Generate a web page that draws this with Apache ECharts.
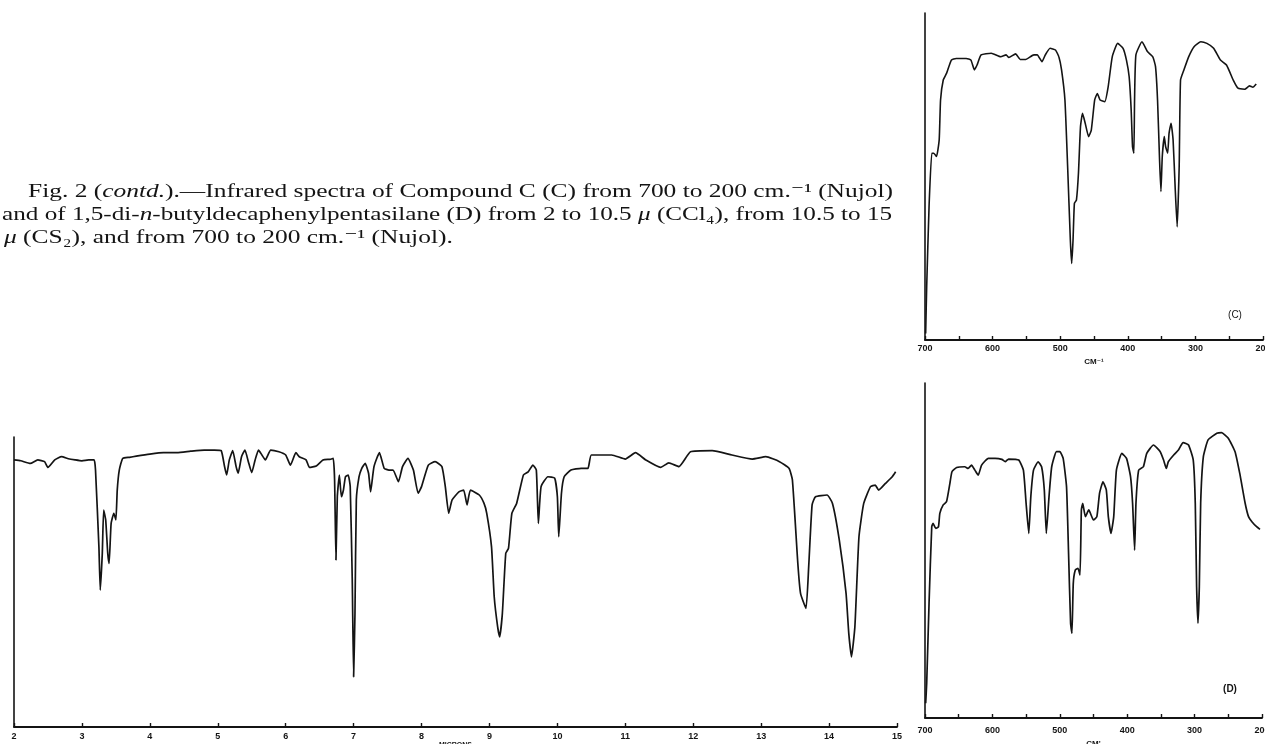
<!DOCTYPE html>
<html><head><meta charset="utf-8">
<script src="https://cdn.jsdelivr.net/npm/echarts@6/dist/echarts.min.js"></script>
<style>html,body{margin:0;padding:0;background:#fff}#c{width:1265px;height:744px}</style>
</head><body><div id="c"></div>
<script>
// ---- Spectrum D, 2 to 15 microns (x: microns, y: relative transmittance 0-100) ----
const dMicron = [2.00,2.10,2.24,2.35,2.45,2.50,2.60,2.70,2.80,2.90,3.00,3.10,3.18,3.20,3.25,3.27,3.30,3.32,3.35,3.38,3.40,3.43,3.47,3.50,3.52,3.55,3.60,3.70,3.80,4.00,4.20,4.40,4.60,4.80,4.95,5.05,5.10,5.13,5.17,5.22,5.27,5.30,5.35,5.40,5.45,5.50,5.55,5.60,5.65,5.70,5.78,5.90,6.00,6.07,6.15,6.20,6.30,6.35,6.45,6.55,6.65,6.70,6.72,6.74,6.76,6.79,6.82,6.85,6.88,6.92,6.95,6.98,7.00,7.02,7.04,7.08,7.12,7.17,7.22,7.25,7.30,7.38,7.45,7.52,7.58,7.66,7.72,7.80,7.88,7.95,8.00,8.10,8.20,8.30,8.35,8.40,8.45,8.55,8.62,8.67,8.72,8.85,8.92,8.96,9.03,9.07,9.12,9.15,9.19,9.24,9.28,9.33,9.40,9.50,9.57,9.64,9.69,9.72,9.76,9.86,9.96,10.00,10.02,10.06,10.10,10.20,10.35,10.45,10.50,10.80,11.00,11.15,11.30,11.52,11.64,11.79,11.96,12.28,12.57,12.87,13.07,13.27,13.41,13.46,13.54,13.58,13.66,13.70,13.75,13.80,13.97,14.05,14.15,14.25,14.29,14.33,14.38,14.44,14.51,14.61,14.68,14.73,14.83,14.93,14.98];
const dMicronT = [92.1,91.8,90.9,92.1,91.5,89.5,92.1,93.2,92.5,92.1,91.8,92.1,92.1,88.6,62.2,47.2,59.9,74.8,71.4,59.9,56.4,70.2,73.7,71.4,81.7,88.6,92.6,93.0,93.4,94.1,94.6,94.6,95.1,95.5,95.5,95.3,89.8,86.9,92.1,95.3,89.8,87.5,93.2,95.5,91.5,87.7,92.1,95.5,93.8,92.1,95.5,94.9,93.8,90.3,94.6,93.2,92.1,89.5,90.0,92.1,92.3,92.6,85.2,57.6,79.4,86.9,79.4,81.7,86.3,86.9,82.9,50.7,17.3,39.2,78.3,86.3,89.2,90.9,87.5,81.1,89.8,94.6,89.2,88.6,88.6,84.6,89.8,92.6,88.6,80.6,82.9,90.3,91.5,89.8,82.9,73.7,78.3,81.1,81.7,76.6,81.7,80.0,77.1,73.7,62.2,44.9,34.6,31.1,39.2,59.9,61.6,73.7,77.1,86.9,88.0,90.3,88.6,70.2,82.9,86.3,85.8,79.4,65.6,80.6,86.3,88.6,89.2,89.2,93.8,93.8,92.4,94.6,92.1,89.5,91.1,89.8,94.9,95.3,93.8,92.4,93.2,91.5,89.2,85.2,56.4,46.1,40.9,55.3,76.6,79.4,80.0,77.1,64.5,46.1,32.3,24.2,34.6,65.6,77.1,82.9,83.4,81.7,84.0,86.3,88.0];

// ---- Spectrum C, 700 to 200 cm-1 ----
const cWavenumber = [699,697.5,694,690,687,683,679,677,673,668,661,654,639,632,627,623,617,602,588,580,576,566,559,551,539,534,527,522,515,507,502,498,493,489,485,483,481,479,476,473,470,467,463,458,454,449,445,441,434,429,423,415,407,402,398,395,393,391,390,388,379,371,363,359,356,353,351,349,346,344,341,339,336,333,330,327,324,322,317,310,302,292,283,273,263,254,244,237,227,220,215,210];
const cTrans = [2.0,16.3,40.8,57.1,57.1,56.1,61.2,73.4,79.5,81.6,85.6,86.1,86.1,85.6,82.6,84.1,87.2,87.7,86.6,87.2,86.4,87.5,85.8,85.8,87.2,87.2,85.1,87.2,89.2,88.7,86.6,82.6,73.4,53.0,30.6,23.4,30.6,41.8,42.8,51.0,65.2,69.3,66.3,62.2,64.2,73.4,75.4,73.4,72.9,77.5,86.6,90.7,89.2,85.6,80.5,70.3,59.1,57.1,73.4,87.2,91.2,88.2,86.6,83.6,73.4,55.0,45.4,56.1,62.2,59.1,57.1,63.2,66.3,61.2,46.9,34.6,53.0,79.5,82.6,86.6,89.7,91.2,90.7,89.2,85.6,84.1,79.5,77.0,76.7,77.7,77.3,78.3];

// ---- Spectrum D, 700 to 200 cm-1 ----
const dWavenumber = [699,697.5,694,690,688,684,680,678,673,668,663,660,653,641,636,631,626,621,616,606,596,586,581,576,561,554,550,546,543,539,532,527,523,520,516,512,505,500,495,490,487,484,482,480,477,473,470,468,466,462,457,450,445,441,436,431,428,424,420,416,408,401,395,392,389,387,383,376,371,361,351,346,342,339,331,324,317,309,302,299,297,295,293,291,287,280,267,260,250,240,233,225,220,215,208,203];
const dTrans = [4.4,10.3,34.2,57.1,58.1,56.6,57.1,61.1,63.6,64.6,70.1,73.5,74.8,75.0,74.5,75.5,74.0,72.5,75.5,77.5,77.5,77.2,76.5,77.3,77.0,74.0,64.1,55.1,66.1,74.0,76.5,75.0,68.1,55.1,66.1,75.0,79.5,79.5,77.5,69.0,49.2,28.3,25.3,40.2,44.2,44.7,42.7,62.1,64.1,60.1,62.1,59.1,60.1,67.1,70.5,68.1,60.1,55.1,60.1,74.0,79.0,77.5,72.0,64.1,50.1,64.1,74.0,75.0,79.0,81.5,79.5,77.0,74.5,76.5,78.5,80.0,82.2,81.5,77.0,64.1,39.2,28.3,39.2,64.1,78.0,83.0,85.0,85.2,83.5,79.5,73.0,64.1,60.1,58.6,57.1,56.3];

// ---- Axis tick labels ----
const micronLabels = ['2','3','4','5','6','7','8','9','10','11','12','13','14','15'];
const wavenumberLabels = ['700','600','500','400','300','200'];

const captionLines = [
  '{r|Fig. 2 (}{i|contd.}{r|).—Infrared spectra of Compound C (C) from 700 to 200 cm.⁻¹ (Nujol)}',
  '{r|and of 1,5-di-}{i|n}{r|-butyldecaphenylpentasilane (D) from 2 to 10.5 }{i|μ}{r| (CCl₄), from 10.5 to 15}',
  '{i|μ}{r| (CS₂), and from 700 to 200 cm.⁻¹ (Nujol).}'
];
const captionPlain = [
  'Fig. 2 (contd.).—Infrared spectra of Compound C (C) from 700 to 200 cm.⁻¹ (Nujol)',
  'and of 1,5-di-n-butyldecaphenylpentasilane (D) from 2 to 10.5 μ (CCl₄), from 10.5 to 15',
  'μ (CS₂), and from 700 to 200 cm.⁻¹ (Nujol).'
];

const ink = '#141414';
const serif = "'Liberation Serif', 'DejaVu Serif', serif";
const sans = "'Liberation Sans', 'DejaVu Sans', sans-serif";
const capFont = 19;

const cv = document.createElement('canvas').getContext('2d');
cv.font = capFont + 'px ' + serif;
const w0 = cv.measureText(captionPlain[0]).width;
const w1 = cv.measureText(captionPlain[1]).width;
const s0 = 865 / w0;
const capLayout = [
  {x: 28, y: 192, s: s0},
  {x: 2, y: 215, s: 891 / w1},
  {x: 4, y: 238, s: s0}
];

function zip(a, b) { return a.map((v, i) => [v, b[i]]); }

const chart = echarts.init(document.getElementById('c'), null, {renderer: 'canvas'});

function xAxisCommon(extra) {
  return Object.assign({
    type: 'value',
    axisLine: {show: true, onZero: false, lineStyle: {color: ink, width: 1.8}},
    axisTick: {show: true, inside: true, length: 4, lineStyle: {color: ink, width: 1.4}},
    splitLine: {show: false}
  }, extra);
}
function yAxisCommon(gi) {
  return {
    type: 'value', gridIndex: gi, min: 0, max: 100,
    axisLine: {show: true, lineStyle: {color: ink, width: 1.6}},
    axisTick: {show: false}, axisLabel: {show: false}, splitLine: {show: false}
  };
}

const option = {
  animation: false,
  backgroundColor: '#ffffff',
  grid: [
    {left: 14, right: 368, top: 437, bottom: 17, outerBoundsMode: 'none'},
    {left: 925, right: 2, top: 13, bottom: 404, outerBoundsMode: 'none'},
    {left: 925, right: 3, top: 383, bottom: 26, outerBoundsMode: 'none'}
  ],
  xAxis: [
    xAxisCommon({gridIndex: 0, min: 2, max: 15, interval: 1,
      axisLabel: {color: ink, fontFamily: sans, fontWeight: 'bold', fontSize: 9, margin: 5,
        formatter: v => micronLabels[Math.round(v) - 2] || ''},
      name: 'MICRONS', nameLocation: 'middle', nameGap: 15,
      nameTextStyle: {color: ink, fontFamily: sans, fontWeight: 'bold', fontSize: 7}}),
    xAxisCommon({gridIndex: 1, min: 200, max: 700, interval: 50, inverse: true,
      axisLabel: {color: ink, fontFamily: sans, fontWeight: 'bold', fontSize: 9, margin: 4,
        formatter: v => (v % 100 === 0 && wavenumberLabels.indexOf(String(v)) >= 0) ? String(v) : ''},
      name: 'CM⁻¹', nameLocation: 'middle', nameGap: 18,
      nameTextStyle: {color: ink, fontFamily: sans, fontWeight: 'bold', fontSize: 8}}),
    xAxisCommon({gridIndex: 2, min: 200, max: 700, interval: 50, inverse: true,
      axisLabel: {color: ink, fontFamily: sans, fontWeight: 'bold', fontSize: 9, margin: 8,
        formatter: v => (v % 100 === 0 && wavenumberLabels.indexOf(String(v)) >= 0) ? String(v) : ''},
      name: "CM'", nameLocation: 'middle', nameGap: 22,
      nameTextStyle: {color: ink, fontFamily: sans, fontWeight: 'bold', fontSize: 8}})
  ],
  yAxis: [yAxisCommon(0), yAxisCommon(1), yAxisCommon(2)],
  series: [
    {type: 'line', xAxisIndex: 0, yAxisIndex: 0, data: zip(dMicron, dMicronT), showSymbol: false,
      lineStyle: {color: ink, width: 1.7}, smooth: 0.15},
    {type: 'line', xAxisIndex: 1, yAxisIndex: 1, data: zip(cWavenumber, cTrans), showSymbol: false,
      lineStyle: {color: ink, width: 1.6}, smooth: 0.15},
    {type: 'line', xAxisIndex: 2, yAxisIndex: 2, data: zip(dWavenumber, dTrans), showSymbol: false,
      lineStyle: {color: ink, width: 1.7}, smooth: 0.15}
  ],
  graphic: captionLines.map((t, i) => ({
    type: 'text',
    x: capLayout[i].x, y: capLayout[i].y,
    scaleX: capLayout[i].s,
    style: {
      text: t, fill: ink, verticalAlign: 'middle', align: 'left',
      rich: {
        r: {fontFamily: serif, fontSize: capFont, fill: ink},
        i: {fontFamily: serif, fontSize: capFont, fontStyle: 'italic', fill: ink}
      }
    }
  })).concat([
    {type: 'text', x: 1235, y: 315, style: {text: '(C)', fill: ink, font: '10px ' + sans, align: 'center', verticalAlign: 'middle'}},
    {type: 'text', x: 1230, y: 689, style: {text: '(D)', fill: ink, font: 'bold 10px ' + sans, align: 'center', verticalAlign: 'middle'}}
  ])
};
chart.setOption(option);
</script>
</body></html>
